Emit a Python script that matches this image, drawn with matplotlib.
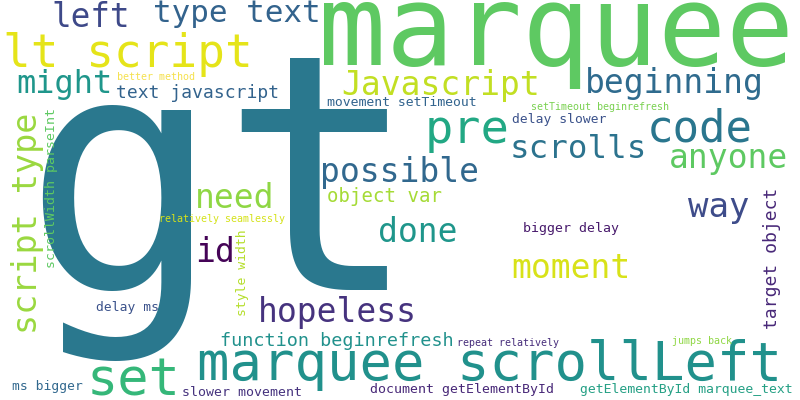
import matplotlib
matplotlib.use('Agg')
import matplotlib.pyplot as plt

# word cloud terms and their weights (font size in px, i.e. relative frequency)
words = ['gt', 'marquee', 'marquee scrollLeft', 'set', 'lt script', 'pre', 'code',
         'Javascript', 'beginning', 'type text', 'left', 'might', 'possible',
         'scrolls', 'anyone', 'way', 'need', 'done', 'id', 'moment', 'hopeless',
         'script type', 'text javascript', 'object var', 'function beginrefresh',
         'target object', 'movement setTimeout', 'delay slower', 'bigger delay',
         'delay ms', 'scrollWidth parseInt', 'style width', 'ms bigger',
         'slower movement', 'document getElementById', 'getElementById marquee_text',
         'setTimeout beginrefresh', 'better method', 'relatively seamlessly',
         'repeat relatively', 'jumps back']
weights = [330, 113, 54, 52, 46, 47, 44,
           33, 33, 31, 32.6, 32, 33,
           32.5, 33, 34, 33, 33, 33, 33, 33,
           33.5, 18, 19, 18.5,
           18, 13.1, 13, 13.3,
           13, 13.2, 13.1, 13,
           13.3, 13.3, 13.1,
           10, 10, 10,
           10, 10]
colors = ['#2a788e', '#5ec962', '#21918c', '#35b779', '#e5e419', '#22a884', '#2a768e',
          '#c2df23', '#2f6b8e', '#33638d', '#3e4989', '#1f968b', '#31688e',
          '#2c738e', '#5ec962', '#3e4c8a', '#8fd744', '#1f968b', '#450457', '#d8e219', '#46337e',
          '#9ad83f', '#33638d', '#a5db36', '#21918c',
          '#482878', '#32648e', '#3b528b', '#481a6c',
          '#3b528b', '#5ec962', '#b5de2b', '#31688e',
          '#46337e', '#482878', '#25a085',
          '#7ad151', '#f5e14e', '#d5e21a',
          '#472d7b', '#8fd744']

# layout: (x, baseline y, rotation) in image pixels
layout = [(22, 290, 0), (318, 65, 0), (197, 380, 0), (87, 395, 0), (3, 67, 0), (425, 143, 0), (647, 142, 0),
          (341, 95, 0), (585, 93, 0), (153, 22, 0), (51, 27, 0), (16, 93, 0), (320, 182, 0),
          (510, 158, 0), (669, 168, 0), (688, 217, 0), (195, 208, 0), (378, 242, 0), (195, 262, 0), (511, 278, 0), (258, 322, 0),
          (37, 334, 90), (116, 98, 0), (327, 202, 0), (220, 346, 0),
          (777, 329, 90), (327, 106, 0), (512, 123, 0), (523, 232, 0),
          (96, 311, 0), (55, 268, 90), (246, 316, 90), (12, 390, 0),
          (182, 396, 0), (370, 393, 0), (580, 393, 0),
          (531, 110, 0), (117, 80, 0), (159, 222, 0),
          (457, 346, 0), (672, 344, 0)]

fig = plt.figure(figsize=(8, 4), dpi=100)
ax = fig.add_axes([0, 0, 1, 1])
ax.set_xlim(0, 800)
ax.set_ylim(400, 0)
ax.axis('off')

for word, w, c, (x, y, rot) in zip(words, weights, colors, layout):
    ax.text(x, y, word, fontsize=w * 0.72, color=c, family='DejaVu Sans Mono',
            ha='left', va='baseline', rotation=rot, rotation_mode='anchor')

fig.savefig('out.png', dpi=100, facecolor='white')
